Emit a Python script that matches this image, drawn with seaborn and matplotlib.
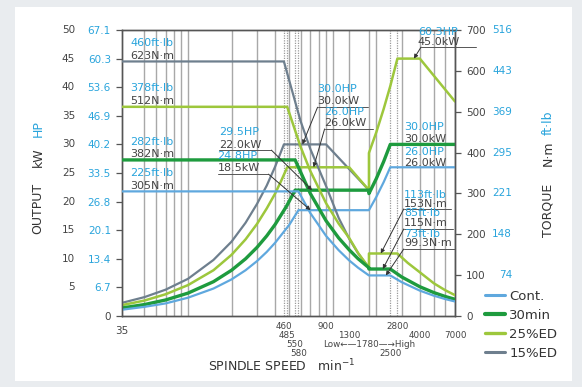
import matplotlib
matplotlib.use("Agg")
import matplotlib.pyplot as plt
from matplotlib.patches import Rectangle
from matplotlib.lines import Line2D
import matplotlib.transforms as mtransforms
import pandas as pd
import seaborn as sns

# ---------------------------------------------------------------------------
# values (speed in min-1, output in kW, torque in N·m)
cont_kw_rpm = [35, 50, 70, 100, 150, 200, 250, 300, 350, 400, 500, 580, 1780, 2000, 2250, 2500, 7000]
cont_kw = [1.1, 1.6, 2.2, 3.2, 4.8, 6.4, 8.0, 9.6, 11.2, 12.8, 15.9, 18.5, 18.5, 20.8, 23.4, 26.0, 26.0]
cont_nm_rpm = [35, 580, 700, 900, 1100, 1300, 1500, 1780, 2500, 3000, 4000, 5000, 6000, 7000]
cont_nm = [305, 305, 252, 196, 161, 136, 118, 99.3, 99.3, 82.8, 62.1, 49.7, 41.4, 35.5]

m30_kw_rpm = [35, 50, 70, 100, 150, 200, 250, 300, 350, 400, 480, 550, 1780, 1780, 2000, 2250, 2500, 7000]
m30_kw = [1.4, 2.0, 2.8, 4.0, 6.0, 8.0, 10.0, 12.0, 14.0, 16.0, 19.2, 22.0, 22.0, 21.4, 24.0, 27.0, 30.0, 30.0]
m30_nm_rpm = [35, 550, 700, 900, 1100, 1300, 1500, 1780, 1780, 2500, 3000, 4000, 5000, 6000, 7000]
m30_nm = [382, 382, 300, 233, 191, 162, 140, 118, 115, 115, 95.5, 71.6, 57.3, 47.7, 40.9]

ed25_kw_rpm = [35, 50, 70, 100, 150, 200, 250, 300, 350, 400, 440, 485, 1300, 1780, 1780,
               2000, 2250, 2500, 2800, 4000, 7000]
ed25_kw = [1.9, 2.7, 3.8, 5.4, 8.0, 10.7, 13.4, 16.1, 18.8, 21.4, 23.6, 26.0, 26.0, 22.0, 28.5,
           32.1, 36.2, 40.2, 45.0, 45.0, 37.5]
ed25_nm_rpm = [35, 485, 600, 700, 900, 1100, 1300, 1500, 1780, 1780, 2800, 3300, 4000, 5000, 6000, 7000]
ed25_nm = [512, 512, 414, 355, 276, 226, 191, 154, 118, 153, 153, 130, 107, 80, 63, 51]

ed15_kw_rpm = [35, 50, 70, 100, 150, 200, 250, 300, 350, 400, 460, 900, 1780]
ed15_kw = [2.3, 3.3, 4.6, 6.5, 9.8, 13.0, 16.3, 19.6, 22.8, 26.1, 30.0, 30.0, 22.0]
ed15_nm_rpm = [35, 460, 600, 700, 900, 1100, 1300, 1500, 1780]
ed15_nm = [623, 623, 477, 409, 318, 240, 189, 153, 118]

series_names = ["Cont.", "30min", "25%ED", "15%ED"]
colors = ["#5fa8de", "#1e9b3e", "#9dc73c", "#6e7f8e"]
widths = [1.6, 2.4, 1.8, 1.6]

kw_ticks = [0, 5, 10, 15, 20, 25, 30, 35, 40, 45, 50]
hp_labels = ["", "6.7", "13.4", "20.1", "26.8", "33.5", "40.2", "46.9", "53.6", "60.3", "67.1"]
nm_ticks = [0, 100, 200, 300, 400, 500, 600, 700]
ftlb_labels = ["", "74", "148", "221", "295", "369", "443", "516"]

grid_rpm = [50, 60, 70, 80, 90, 100, 200, 300, 400, 500, 600, 700, 800, 900,
            1000, 1300, 1780, 2000, 3000, 4000, 5000, 6000, 7000]
dotted_rpm = [460, 485, 550, 580, 2500, 2800]

# speed labels: (speed, text, row)
speed_labels = [(460, "460", 0), (485, "485", 1), (550, "550", 2),
                (580, "580", 3), (900, "900", 0), (1300, "1300", 1),
                (1780, "Low\u2190\u20141780\u2014\u2192High", 2), (2500, "2500", 3),
                (2800, "2800", 0), (4000, "4000", 1), (7000, "7000", 1)]

BLUE = "#29a4dc"
DARK = "#444444"

# ---------------------------------------------------------------------------
sns.set_theme(style="white")
plt.rcParams["font.family"] = ["DejaVu Sans"]

fig = plt.figure(figsize=(5.82, 3.87), dpi=100, facecolor="#e9ecef")
card = Rectangle((15 / 582, 1 - 381 / 387), 557 / 582, 374 / 387,
                 transform=fig.transFigure, facecolor="white", edgecolor="none", zorder=-10)
fig.patches.append(card)

ax = fig.add_axes([122 / 582, 1 - 316 / 387, 333 / 582, 286 / 387])
ax.set_xscale("log")
ax2 = ax.twinx()
ax.set_zorder(1)
ax2.set_zorder(2)
ax2.patch.set_visible(False)

for s in grid_rpm:
    ax.axvline(s, color="#a8a8a8", lw=1.0, zorder=0)
for s in dotted_rpm:
    ax.axvline(s, color="#9a9a9a", lw=0.9, ls=(0, (1, 1)), zorder=0)

power = [(cont_kw_rpm, cont_kw), (m30_kw_rpm, m30_kw), (ed25_kw_rpm, ed25_kw), (ed15_kw_rpm, ed15_kw)]
torque = [(cont_nm_rpm, cont_nm), (m30_nm_rpm, m30_nm), (ed25_nm_rpm, ed25_nm), (ed15_nm_rpm, ed15_nm)]

# draw back to front so 15%ED sits under the others like the original
for i in [3, 2, 1, 0]:
    df = pd.DataFrame({"rpm": power[i][0], "kw": power[i][1]})
    sns.lineplot(data=df, x="rpm", y="kw", ax=ax, color=colors[i], lw=widths[i],
                 sort=False, estimator=None, zorder=3)
    df = pd.DataFrame({"rpm": torque[i][0], "nm": torque[i][1]})
    sns.lineplot(data=df, x="rpm", y="nm", ax=ax2, color=colors[i], lw=widths[i],
                 sort=False, estimator=None, zorder=3)

ax.set_xlim(35, 7000)
ax.set_ylim(0, 50)
ax2.set_ylim(0, 700)
ax.set_xticks([])
ax.set_xticks([], minor=True)
ax.set_xlabel("")
ax.set_ylabel("")
ax2.set_ylabel("")

for a in (ax, ax2):
    for sp in a.spines.values():
        sp.set_color("#555555")
        sp.set_linewidth(1.0)

# left ticks: HP in blue at tick, kW in dark further left
ax.set_yticks(kw_ticks)
ax.set_yticklabels(["0"] + hp_labels[1:])
ax.tick_params(axis="y", direction="out", length=4, width=0.9, color="#555555",
               pad=4, labelsize=7.5)
for lab in ax.get_yticklabels()[1:]:
    lab.set_color(BLUE)
ax.get_yticklabels()[0].set_color(DARK)
tl = mtransforms.blended_transform_factory(ax.transAxes, ax.transData)
for v in kw_ticks[1:]:
    ax.text(-0.141, v, str(v), transform=tl, ha="right", va="center",
            fontsize=7.5, color=DARK, clip_on=False)

# right ticks: N·m dark at tick, ft·lb in blue further right
ax2.set_yticks(nm_ticks)
ax2.set_yticklabels([str(v) for v in nm_ticks])
ax2.tick_params(axis="y", direction="out", length=4, width=0.9, color="#555555",
                pad=4, labelsize=7.5, labelcolor=DARK)
tr = mtransforms.blended_transform_factory(ax2.transAxes, ax2.transData)
for v, t in zip(nm_ticks, ftlb_labels):
    ax2.text(1.171, v, t, transform=tr, ha="right", va="center", fontsize=7.5,
             color=BLUE, clip_on=False)

# speed labels staggered under the axis
tb = mtransforms.blended_transform_factory(ax.transData, ax.transAxes)
ax.text(35, -0.052, "35", transform=tb, ha="center", va="center",
        fontsize=7.5, color=DARK, clip_on=False)
for s, t, row in speed_labels:
    ax.text(s, -0.035 - 0.0325 * row, t, transform=tb, ha="center", va="center",
            fontsize=6.3, color=DARK, clip_on=False)

# axis titles
fig.text(38 / 582, 1 - 208 / 387, "OUTPUT", rotation=90, ha="center", va="center", fontsize=9, color="#333333")
fig.text(38 / 582, 1 - 157 / 387, "kW", rotation=90, ha="center", va="center", fontsize=9, color="#333333")
fig.text(38 / 582, 1 - 129 / 387, "HP", rotation=90, ha="center", va="center", fontsize=9, color=BLUE)
fig.text(548 / 582, 1 - 210 / 387, "TORQUE", rotation=90, ha="center", va="center", fontsize=9, color="#333333")
fig.text(548 / 582, 1 - 153 / 387, "N\u00b7m", rotation=90, ha="center", va="center", fontsize=9, color="#333333")
fig.text(548 / 582, 1 - 123 / 387, "ft\u00b7lb", rotation=90, ha="center", va="center", fontsize=9, color=BLUE)
fig.text(282 / 582, 1 - 366 / 387, "SPINDLE SPEED   min$^{-1}$", ha="center", va="center",
         fontsize=9, color="#333333")

# torque labels at the left
for nm, ft in [(623, "460ft\u00b7lb"), (512, "378ft\u00b7lb"), (382, "282ft\u00b7lb"), (305, "225ft\u00b7lb")]:
    ax2.text(40, nm + 45, ft, ha="left", va="center", fontsize=8, color=BLUE, zorder=5)
    ax2.text(40, nm + 14, "%dN\u00b7m" % nm, ha="left", va="center", fontsize=8, color=DARK, zorder=5)


def callout(a, x, y1, y2, t1, t2, ul=None, start=None, target=None):
    a.text(x, y1, t1, ha="left", va="center", fontsize=8, color=BLUE, zorder=6, clip_on=False)
    a.text(x, y2, t2, ha="left", va="center", fontsize=8, color=DARK, zorder=6, clip_on=False)
    if ul is not None:
        a.plot([ul[0], ul[1]], [ul[2], ul[2]], color="#555555", lw=0.7, clip_on=False, zorder=6)
    if target is not None:
        a.annotate("", xy=target, xytext=start,
                   arrowprops=dict(arrowstyle="-|>", color="#333333", lw=0.7,
                                   mutation_scale=6, shrinkA=0, shrinkB=0), zorder=6)


k = 14  # kW -> N·m axis units (50 kW spans the same height as 700 N·m)
callout(ax2, 786, 39.7 * k, 37.6 * k, "30.0HP", "30.0kW", (786, 1750, 36.5 * k), (786, 36.5 * k), (618, 30 * k))
callout(ax2, 879, 35.7 * k, 33.7 * k, "26.0HP", "26.0kW", (879, 1900, 32.7 * k), (879, 32.7 * k), (738, 26 * k))
callout(ax2, 163, 32.2 * k, 29.9 * k, "29.5HP", "22.0kW", (163, 377, 29.0 * k), (377, 29.0 * k), (720, 22 * k))
callout(ax2, 160, 28.0 * k, 25.9 * k, "24.8HP", "18.5kW", (160, 360, 24.8 * k), (360, 24.8 * k), (703, 18.5 * k))
callout(ax2, 3873, 49.6 * k, 47.9 * k, "60.3HP", "45.0kW", (4077, 9780, 47.0 * k), (4077, 47.0 * k), (3640, 45 * k))
callout(ax2, 3099, 33.0 * k, 30.9 * k, "30.0HP", "30.0kW")
callout(ax2, 3099, 28.7 * k, 26.7 * k, "26.0HP", "26.0kW")
callout(ax2, 3099, 296, 274, "113ft\u00b7lb", "153N\u00b7m", (3099, 6561, 262), (3099, 262), (2150, 153))
callout(ax2, 3099, 252, 228, "85ft\u00b7lb", "115N\u00b7m", (3099, 6774, 213), (3099, 213), (2220, 115))
callout(ax2, 3099, 201, 179, "73ft\u00b7lb", "99.3N\u00b7m", (3099, 7000, 164), (3099, 164), (2330, 99.3))

handles = [Line2D([0], [0], color=c, lw=w + 0.6) for c, w in zip(colors, widths)]
fig.legend(handles, series_names, loc="upper left", bbox_to_anchor=(485 / 582, 1 - 290 / 387),
           frameon=False, fontsize=9.5, handlelength=1.5, handletextpad=0.35,
           labelspacing=0.45, borderaxespad=0, borderpad=0, labelcolor="#333333")

fig.savefig("out.png", dpi=100, facecolor=fig.get_facecolor())
